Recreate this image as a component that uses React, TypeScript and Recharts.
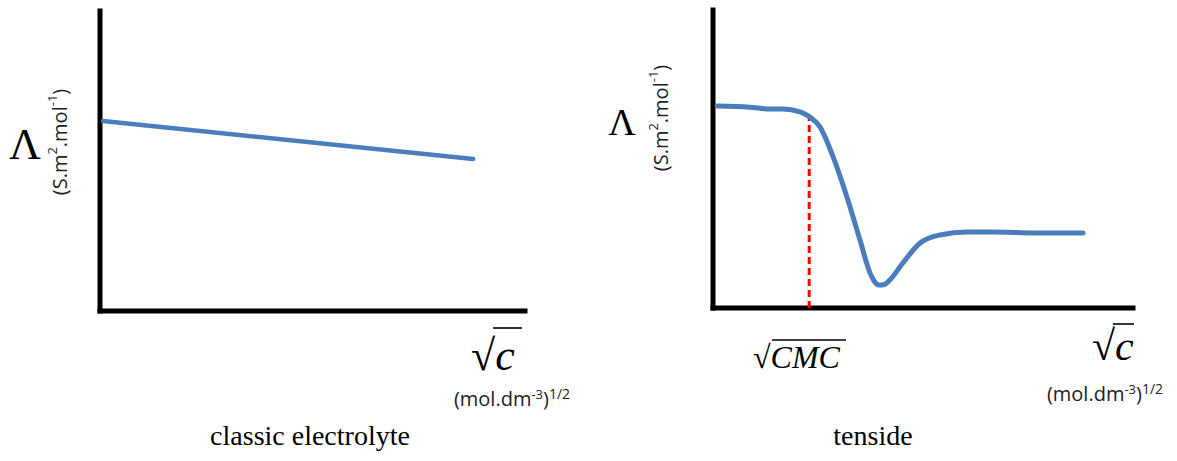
import React from "react";
import { LineChart, Line, XAxis, YAxis, ReferenceLine } from "recharts";

// left panel: classic electrolyte (straight decline)
const classicX = [0.7, 87.8];
const classicY = [63.3, 50.7];

// right panel: tenside curve
const tensideX = [1.0, 8.8, 13.6, 16.7, 20.7, 23.1, 25.5, 28.6, 31.9, 35.0, 37.4, 38.4, 39.5, 40.8, 42.1, 45.2, 49.3, 54.0, 60.5, 66.7, 76.2, 88.1];
const tensideY = [67.8, 67.4, 66.8, 66.8, 65.8, 64.1, 60.7, 50.7, 37.2, 22.8, 11.7, 9.0, 7.7, 7.9, 9.4, 15.1, 21.8, 24.5, 25.5, 25.5, 25.2, 25.2];

const cmcX = 22.9;
const cmcY = 64.1;

const classicData = classicX.map((x, i) => ({ x, y: classicY[i] }));
const tensideData = tensideX.map((x, i) => ({ x, y: tensideY[i] }));

const BLUE = "#4a7dbb";
const serif = "'Liberation Serif', 'Times New Roman', serif";
const sans = "'Open Sans', 'Noto Sans', sans-serif";

function UnitY({ x, y }: { x: number; y: number }) {
  return (
    <text
      x={x}
      y={y}
      transform={`rotate(-90 ${x} ${y})`}
      textAnchor="middle"
      dominantBaseline="central"
      fontFamily={sans}
      fontSize={20}
      fill="#222"
    >
      (S.m<tspan dy={-7} fontSize={13}>2</tspan>
      <tspan dy={7}>.mol</tspan>
      <tspan dy={-7} fontSize={13}>-1</tspan>
      <tspan dy={7}>)</tspan>
    </text>
  );
}

function UnitX({ x, y }: { x: number; y: number }) {
  return (
    <text x={x} y={y} textAnchor="middle" fontFamily={sans} fontSize={20} fill="#222">
      (mol.dm<tspan dy={-7} fontSize={13}>-3</tspan>
      <tspan dy={7}>)</tspan>
      <tspan dy={-7} fontSize={14}>1/2</tspan>
    </text>
  );
}

function SqrtC({ x, y, size }: { x: number; y: number; size: number }) {
  return (
    <text x={x} y={y} fontFamily={serif} fontSize={size} fill="#000">
      √<tspan fontStyle="italic">c</tspan>
    </text>
  );
}

export default function App() {
  return (
    <div style={{ position: "absolute", left: 0, top: 0, width: 1177, height: 461, background: "#fff" }}>
      <div style={{ position: "absolute", left: 0, top: 0 }}>
        <LineChart width={600} height={461} data={classicData} margin={{ top: 11, right: 75, bottom: 150, left: 100 }}>
          <XAxis type="number" dataKey="x" domain={[0, 100]} hide />
          <YAxis type="number" domain={[0, 100]} hide />
          <ReferenceLine x={0} stroke="#000" strokeWidth={5} strokeLinecap="square" />
          <ReferenceLine y={0} stroke="#000" strokeWidth={5} strokeLinecap="square" />
          <Line type="linear" dataKey="y" stroke={BLUE} strokeWidth={4.5} strokeLinecap="round" dot={false} isAnimationActive={false} />
        </LineChart>
      </div>
      <div style={{ position: "absolute", left: 600, top: 0 }}>
        <LineChart width={577} height={461} data={tensideData} margin={{ top: 10, right: 44, bottom: 153, left: 113 }}>
          <XAxis type="number" dataKey="x" domain={[0, 100]} hide />
          <YAxis type="number" domain={[0, 100]} hide />
          <ReferenceLine x={0} stroke="#000" strokeWidth={5} strokeLinecap="square" />
          <ReferenceLine y={0} stroke="#000" strokeWidth={5} strokeLinecap="square" />
          <ReferenceLine
            segment={[{ x: cmcX, y: 0 }, { x: cmcX, y: cmcY }]}
            stroke="#ff0000"
            strokeWidth={3}
            strokeDasharray="7 4"
          />
          <Line type="monotone" dataKey="y" stroke={BLUE} strokeWidth={5} strokeLinecap="round" dot={false} isAnimationActive={false} />
        </LineChart>
      </div>
      <svg width={1177} height={461} style={{ position: "absolute", left: 0, top: 0, pointerEvents: "none" }}>
        <text x={25} y={159} textAnchor="middle" fontFamily={serif} fontSize={44}>Λ</text>
        <UnitY x={59} y={142} />
        <SqrtC x={471} y={370} size={44} />
        <line x1={493} y1={328} x2={522} y2={328} stroke="#000" strokeWidth={1.6} />
        <UnitX x={512} y={406} />
        <text x={310} y={445} textAnchor="middle" fontFamily={serif} fontSize={28}>classic electrolyte</text>

        <text x={622} y={135} textAnchor="middle" fontFamily={serif} fontSize={38}>Λ</text>
        <UnitY x={660} y={118} />
        <text x={753} y={368} fontFamily={serif} fontSize={32}>
          √<tspan fontStyle="italic">CMC</tspan>
        </text>
        <line x1={772} y1={340} x2={846} y2={340} stroke="#000" strokeWidth={1.6} />
        <SqrtC x={1092} y={360} size={42} />
        <line x1={1113} y1={324} x2={1134} y2={324} stroke="#000" strokeWidth={1.6} />
        <UnitX x={1105} y={401} />
        <text x={873} y={445} textAnchor="middle" fontFamily={serif} fontSize={28}>tenside</text>
      </svg>
    </div>
  );
}
